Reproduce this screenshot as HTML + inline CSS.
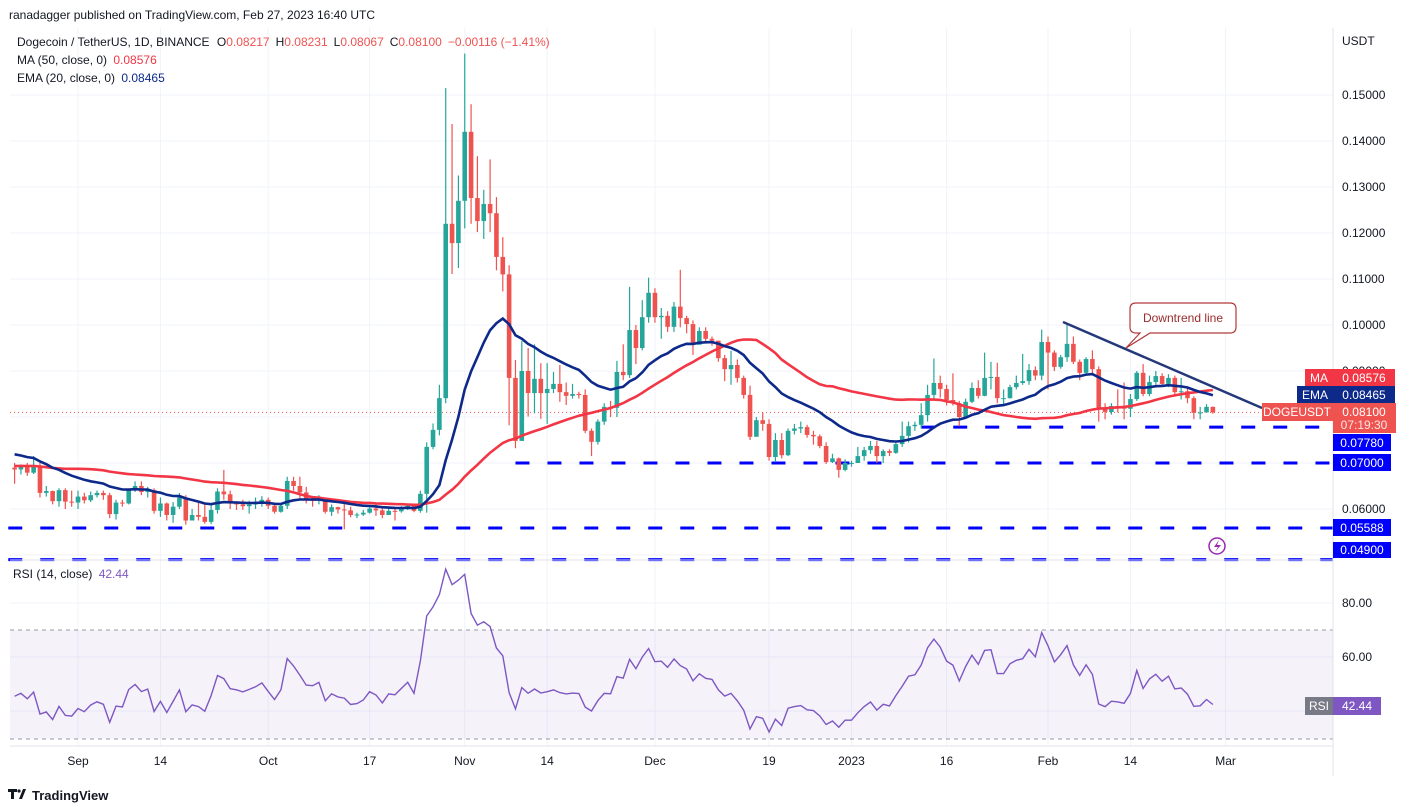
<!DOCTYPE html>
<html><head><meta charset="utf-8">
<style>
html,body{margin:0;padding:0;background:#fff;}
svg{display:block;font-family:"Liberation Sans",sans-serif;}
</style></head>
<body>
<svg id="chart" width="1410" height="812" viewBox="0 0 1410 812">
<text x="9" y="19" font-size="12" fill="#131722">ranadagger published on TradingView.com, Feb 27, 2023 16:40 UTC</text>
<g id="grid"></g>
<rect x="10" y="630" width="1323" height="109" fill="#7e57c2" fill-opacity="0.08"/>
<line x1="10" y1="630" x2="1333" y2="630" stroke="#9598a1" stroke-dasharray="4,4"/>
<line x1="10" y1="739" x2="1333" y2="739" stroke="#9598a1" stroke-dasharray="4,4"/>
<g id="levels"></g>
<g id="candles"></g>
<g id="lines"></g>
<line x1="1063" y1="322" x2="1262" y2="408" stroke="#24387a" stroke-width="2.5"/>
<g>
<path d="M1136,303 H1230 Q1236,303 1236,309 V327 Q1236,333 1230,333 H1150 L1126,348 L1140,333 H1136 Q1130,333 1130,327 V309 Q1130,303 1136,303 Z" fill="#fff" stroke="#b03a3a" stroke-width="1.2"/>
<text x="1183" y="322" font-size="12" fill="#9b2c2c" text-anchor="middle">Downtrend line</text>
</g>
<line x1="10" y1="560" x2="1333" y2="560" stroke="#e0e3eb"/>
<line x1="1333" y1="28" x2="1333" y2="776" stroke="#e0e3eb"/>
<line x1="10" y1="746" x2="1333" y2="746" stroke="#e0e3eb"/>
<g id="axes"></g>
<g font-size="12">
<text x="17" y="46" fill="#131722">Dogecoin / TetherUS, 1D, BINANCE <tspan dx="4">O</tspan><tspan fill="#ef5350">0.08217</tspan><tspan dx="6">H</tspan><tspan fill="#ef5350">0.08231</tspan><tspan dx="6">L</tspan><tspan fill="#ef5350">0.08067</tspan><tspan dx="6">C</tspan><tspan fill="#ef5350">0.08100</tspan><tspan dx="6" fill="#ef5350">−0.00116 (−1.41%)</tspan></text>
<text x="17" y="64" fill="#131722">MA (50, close, 0) <tspan dx="3" fill="#f23645">0.08576</tspan></text>
<text x="17" y="82" fill="#131722">EMA (20, close, 0) <tspan dx="3" fill="#0d2a8a">0.08465</tspan></text>
<text x="13" y="578" fill="#131722">RSI (14, close) <tspan dx="3" fill="#7e57c2">42.44</tspan></text>
</g>
<g font-size="12">
<rect x="1305" y="369" width="28" height="18" fill="#f23645"/><text x="1319" y="382" fill="#fff" text-anchor="middle">MA</text>
<rect x="1333" y="369" width="62" height="18" fill="#f23645"/><text x="1364" y="382" fill="#fff" text-anchor="middle">0.08576</text>
<rect x="1297" y="386" width="36" height="18" fill="#0d2a8a"/><text x="1315" y="399" fill="#fff" text-anchor="middle">EMA</text>
<rect x="1333" y="386" width="62" height="18" fill="#0d2a8a"/><text x="1364" y="399" fill="#fff" text-anchor="middle">0.08465</text>
<rect x="1262" y="403" width="71" height="18" fill="#ef5350"/><text x="1297" y="416" fill="#fff" text-anchor="middle">DOGEUSDT</text>
<rect x="1333" y="403" width="63" height="30" fill="#ef5350"/><text x="1364" y="416" fill="#fff" text-anchor="middle">0.08100</text><text x="1364" y="429" fill="#fff" fill-opacity="0.85" text-anchor="middle">07:19:30</text>
<rect x="1333" y="434" width="58" height="17" fill="#0000ff"/><text x="1362" y="447" fill="#fff" text-anchor="middle">0.07780</text>
<rect x="1333" y="454" width="58" height="17" fill="#0000ff"/><text x="1362" y="467" fill="#fff" text-anchor="middle">0.07000</text>
<rect x="1333" y="519" width="58" height="17" fill="#0000ff"/><text x="1362" y="532" fill="#fff" text-anchor="middle">0.05588</text>
<rect x="1333" y="542" width="58" height="16" fill="#0000ff"/><text x="1362" y="554" fill="#fff" text-anchor="middle">0.04900</text>
<rect x="1305" y="697" width="28" height="18" fill="#787b86"/><text x="1319" y="710" fill="#fff" text-anchor="middle">RSI</text>
<rect x="1333" y="697" width="48" height="18" fill="#7e57c2"/><text x="1357" y="710" fill="#fff" text-anchor="middle">42.44</text>
</g>
<g>
<circle cx="1217" cy="546" r="8" fill="none" stroke="#9c27b0" stroke-width="1.5"/>
<path d="M1219,540 L1214,547 H1218 L1215,552 L1221,545 H1217 Z" fill="#9c27b0"/>
</g>
<g>
<path d="M8,789 h9 v3 h-3 v7 h-3 v-7 h-3 z M19,799 l4,-10 h3 l-4,10 z" fill="#131722"/>
<circle cx="19" cy="791" r="1.6" fill="#131722"/>
<text x="32" y="800" font-size="13" font-weight="bold" fill="#131722">TradingView</text>
</g>
</svg>
<script>
const priorCloses=[.0675,.0680,.0690,.0685,.0700,.0710,.0700,.0690,.0660,.0620,.0625,.0630,.0660,.0690,.0700,.0730,.0710,.0700,.0720,.0700,.0680,.0680,.0670,.0650,.0620,.0640,.0680,.0690,.0700,.0690,
.0685,.0670,.0670,.0660,.0680,.0685,.0690,.0675,.0700,.0700,.0700,.0705,.0730,.0760,.0810,.0850,.0790,.0760,.0680,.0690];
const startIndex=-10; // Aug 22, 2022 relative to Sep 1
const closes=[.0686,.0692,.0679,.0692,.0635,.0639,.0617,.0641,.0616,.0614,
.0627,.0619,.0630,.0635,.0630,.0589,.0614,.0612,.0641,.0650,.0637,.0641,.0596,.0612,.0587,.0605,.0625,.0575,.0587,.0583,
.0572,.0598,.0638,.0632,.0612,.0610,.0606,.0610,.0614,.0620,.0607,.0594,.0607,.0661,.0650,.0636,.0620,.0619,.0624,.0594,
.0604,.0599,.0597,.0587,.0588,.0592,.0601,.0597,.0587,.0596,.0595,.0601,.0607,.0596,.0633,
.0735,.0772,.0841,.1220,.1178,.1270,.1420,.1276,.1226,.1263,.1243,.1148,.1110,.0885,.0748,.0900,.0852,.0883,.0852,.0861,
.0872,.0854,.0846,.0850,.0848,.0770,.0746,.0790,.0822,.0820,.0898,.0891,.0989,.0950,.1017,.1070,.1017,.1020,.0996,.1040,
.1015,.1002,.0957,.0987,.0970,.0966,.0928,
.0904,.0913,.0885,.0848,.0757,.0793,.0785,.0713,.0750,.0717,.0770,.0775,.0778,.0761,.0758,.0737,.0702,.0710,.0685,.0700,
.0700,.0715,.0728,.0737,.0715,.0726,.0722,.0741,.0759,.0780,.0783,.0804,.0848,.0874,.0861,.0837,.0830,.0800,.0833,.0863,
.0846,.0885,.0887,.0841,.0841,.0865,.0874,.0878,.0902,.0890,.0963,.0940,.0909,.0930,.0959,.0920,.0896,.0926,.0904,.0820,
.0811,.0824,.0822,.0818,.0839,.0896,.0850,.0876,.0889,.0872,.0885,.0854,.0856,.0841,.0809,.0810,.0822,.0810];
const highs=[.0700,.0697,.0700,.0715,.0700,.0650,.0640,.0645,.0645,.0640,
.0640,.0635,.0638,.0640,.0640,.0635,.0620,.0620,.0643,.0660,.0660,.0648,.0645,.0625,.0614,.0615,.0635,.0630,.0600,.0615,
.0610,.0610,.0645,.0685,.0640,.0617,.0620,.0618,.0625,.0628,.0625,.0610,.0612,.0670,.0670,.0670,.0648,.0625,.0630,.0622,
.0610,.0605,.0612,.0605,.0592,.0598,.0604,.0610,.0605,.0605,.0604,.0606,.0612,.0612,.0640,
.0745,.0786,.0870,.1515,.1437,.1325,.1590,.1480,.1367,.1294,.1360,.1278,.1191,.1130,.0924,.0965,.0950,.0958,.0917,.0917,
.0898,.0913,.0875,.0872,.0855,.0860,.0775,.0795,.0830,.0835,.0922,.0958,.1083,.1000,.1054,.1103,.1080,.1037,.1030,.1050,
.1120,.1020,.1010,.0995,.0995,.0975,.0962,
.0935,.0944,.0925,.0890,.0868,.0800,.0810,.0795,.0765,.0765,.0775,.0785,.0790,.0783,.0770,.0762,.0745,.0720,.0712,.0708,
.0705,.0735,.0735,.0748,.0748,.0730,.0730,.0745,.0790,.0790,.0790,.0830,.0870,.0927,.0890,.0870,.0895,.0835,.0840,.0875,
.0880,.0940,.0920,.0918,.0860,.0870,.0890,.0937,.0915,.0910,.0990,.0975,.0945,.0935,.1000,.0975,.0925,.0930,.0945,.0910,
.0830,.0830,.0860,.0875,.0850,.0900,.0915,.0890,.0900,.0895,.0893,.0890,.0885,.0862,.0845,.0822,.0828,.0823];
const lows=[.0655,.0675,.0672,.0676,.0625,.0627,.0610,.0605,.0600,.0605,
.0600,.0612,.0615,.0625,.0620,.0580,.0577,.0605,.0610,.0637,.0630,.0625,.0590,.0583,.0575,.0570,.0600,.0566,.0575,.0575,
.0568,.0567,.0590,.0620,.0600,.0598,.0598,.0590,.0600,.0605,.0600,.0590,.0592,.0600,.0640,.0620,.0612,.0605,.0610,.0590,
.0585,.0590,.0556,.0582,.0580,.0585,.0590,.0585,.0580,.0590,.0575,.0592,.0598,.0593,.0592,
.0592,.0730,.0760,.0830,.1111,.1124,.1210,.1220,.1202,.1187,.1202,.1119,.1073,.0782,.0732,.0750,.0801,.0808,.0796,.0785,
.0852,.0833,.0826,.0840,.0840,.0765,.0715,.0740,.0783,.0800,.0800,.0880,.0885,.0915,.0945,.1005,.1005,.0970,.0985,.0985,
.0995,.0982,.0935,.0962,.0960,.0955,.0920,
.0878,.0870,.0875,.0840,.0750,.0762,.0770,.0705,.0702,.0710,.0715,.0762,.0765,.0755,.0740,.0732,.0698,.0700,.0668,.0682,
.0692,.0700,.0705,.0720,.0700,.0700,.0715,.0720,.0735,.0745,.0770,.0775,.0790,.0840,.0842,.0825,.0825,.0780,.0800,.0830,
.0840,.0845,.0860,.0830,.0825,.0840,.0860,.0870,.0870,.0880,.0880,.0860,.0900,.0905,.0920,.0915,.0880,.0890,.0890,.0790,
.0795,.0805,.0810,.0795,.0800,.0835,.0845,.0845,.0870,.0865,.0865,.0845,.0838,.0830,.0795,.0795,.0810,.0807];
const priceTicks=[0.15,0.14,0.13,0.12,0.11,0.10,0.09,0.06];
const priceGrid=[0.15,0.14,0.13,0.12,0.11,0.10,0.09,0.08,0.07,0.06,0.05];
const rsiTicks=[80,60];
const rsiGrid=[80,60,40];
const timeIdx=[0,13,30,46,61,74,91,109,122,137,153,166,181];
const timeLabels=["Sep","14","Oct","17","Nov","14","Dec","19","2023","16","Feb","14","Mar"];
const levelPrices=[0.0778,0.07,0.05588,0.049];
const levelStartIdx=[133,69,-11,-11];
const maPeriod=50, emaPeriod=20, rsiPeriod=14;

const NS="http://www.w3.org/2000/svg";
function xOf(i){return 78+i*6.34;}
function yP(p){return 325+(0.1-p)*4600;}
function yR(v){return 603+(80-v)*2.7;}
function mk(tag,attrs,parent){const e=document.createElementNS(NS,tag);for(const k in attrs)e.setAttribute(k,attrs[k]);parent.appendChild(e);return e;}

const grid=document.getElementById('grid');
priceGrid.forEach(p=>{const l=mk('line',{x1:10,x2:1333,y1:yP(p),y2:yP(p),stroke:'#f0f3fa'},grid);

});
rsiGrid.forEach(v=>{const l=mk('line',{x1:10,x2:1333,y1:yR(v),y2:yR(v),stroke:'#f0f3fa'},grid);

});
timeIdx.forEach(i=>{const l=mk('line',{x1:xOf(i),x2:xOf(i),y1:28,y2:746,stroke:'#f0f3fa'},grid);

});

const axes=document.getElementById('axes');
let t=mk('text',{x:1342,y:45,'font-size':12,fill:'#131722'},axes);t.textContent='USDT';


priceTicks.forEach(p=>{const e=mk('text',{x:1342,y:yP(p)+4,'font-size':12,fill:'#131722'},axes);e.textContent=p.toFixed(5);

});
rsiTicks.forEach(v=>{const e=mk('text',{x:1342,y:yR(v)+4,'font-size':12,fill:'#131722'},axes);e.textContent=v.toFixed(2);

});
timeIdx.forEach((i,k)=>{const e=mk('text',{x:xOf(i),y:765,'font-size':12,fill:'#131722','text-anchor':'middle'},axes);e.textContent=timeLabels[k];

});

const lv=document.getElementById('levels');
levelPrices.forEach((p,k)=>{const l=mk('line',{x1:xOf(levelStartIdx[k]),x2:1333,y1:yP(p),y2:yP(p),stroke:'#0000ff','stroke-width':3,'stroke-dasharray':'14,18'},lv);

});
const cur=closes[closes.length-1];
const cl=mk('line',{x1:10,x2:1333,y1:yP(cur),y2:yP(cur),stroke:'#ef5350','stroke-dasharray':'1,3'},lv);



const cg=document.getElementById('candles');
closes.forEach((c,k)=>{const i=startIndex+k;const o=k===0?priorCloses[priorCloses.length-1]:closes[k-1];
const up=c>=o;const col=up?'#26a69a':'#ef5350';const x=xOf(i);
const g=mk('g',{},cg);


mk('line',{x1:x,x2:x,y1:yP(highs[k]),y2:yP(lows[k]),stroke:col,'stroke-width':1.2},g);
const top=yP(Math.max(o,c)),bot=yP(Math.min(o,c));
mk('rect',{x:x-2.3,y:top,width:4.6,height:Math.max(1,bot-top),fill:col},g);});

// indicators
const all=priorCloses.concat(closes);const P=priorCloses.length;
let ema=all[0];const emaArr=[],maArr=[];
for(let j=0;j<all.length;j++){ema=j===0?all[0]:(all[j]*2/(emaPeriod+1)+ema*(1-2/(emaPeriod+1)));emaArr.push(ema);
const s=Math.max(0,j-maPeriod+1);let sum=0;for(let q=s;q<=j;q++)sum+=all[q];maArr.push(sum/(j-s+1));}
let ag=0,al=0;const rsiArr=[];
for(let j=1;j<all.length;j++){const d=all[j]-all[j-1];const gn=Math.max(d,0),ls=Math.max(-d,0);
if(j<=rsiPeriod){ag+=gn/rsiPeriod;al+=ls/rsiPeriod;}else{ag=(ag*(rsiPeriod-1)+gn)/rsiPeriod;al=(al*(rsiPeriod-1)+ls)/rsiPeriod;}
rsiArr[j]=al===0?100:100-100/(1+ag/al);}
let dMA='',dEMA='',dRSI='';
for(let k=0;k<closes.length;k++){const j=P+k;const x=xOf(startIndex+k).toFixed(1);
dMA+=(k?'L':'M')+x+','+yP(maArr[j]).toFixed(1);
dEMA+=(k?'L':'M')+x+','+yP(emaArr[j]).toFixed(1);
dRSI+=(k?'L':'M')+x+','+yR(rsiArr[j]).toFixed(1);}
const lg=document.getElementById('lines');
const ma=mk('path',{d:dMA,fill:'none',stroke:'#f23645','stroke-width':2.6},lg);


const em=mk('path',{d:dEMA,fill:'none',stroke:'#0d2a8a','stroke-width':2.6},lg);


const rs=mk('path',{d:dRSI,fill:'none',stroke:'#7e57c2','stroke-width':1.4},lg);


</script>
</body></html>
